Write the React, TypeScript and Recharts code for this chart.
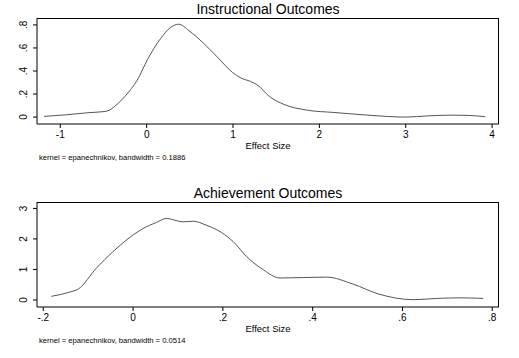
import React from 'react';
import { LineChart, Line, XAxis, YAxis } from 'recharts';

// Instructional outcomes density
const instrX = [-1.19, -0.93, -0.69, -0.46, -0.36, -0.24, -0.11, 0.01, 0.16, 0.28, 0.37, 0.49, 0.66, 0.82, 0.99, 1.09, 1.2, 1.28, 1.42, 1.59, 1.86, 2.17, 2.56, 3.0, 3.25, 3.52, 3.72, 3.92];
const instrY = [0.006, 0.02, 0.037, 0.052, 0.1, 0.19, 0.32, 0.5, 0.68, 0.78, 0.806, 0.75, 0.64, 0.52, 0.39, 0.34, 0.31, 0.28, 0.18, 0.11, 0.06, 0.04, 0.017, 0.0, 0.01, 0.017, 0.015, 0.003];
const instrXTicks = [-1, 0, 1, 2, 3, 4];
const instrYTicks = [0, 0.2, 0.4, 0.6, 0.8];

// Achievement outcomes density
const achX = [-0.182, -0.141, -0.122, -0.082, -0.045, 0.0, 0.022, 0.052, 0.074, 0.111, 0.134, 0.163, 0.197, 0.223, 0.253, 0.29, 0.327, 0.431, 0.49, 0.546, 0.624, 0.676, 0.728, 0.78];
const achY = [0.12, 0.26, 0.36, 1.04, 1.58, 2.13, 2.34, 2.54, 2.67, 2.56, 2.58, 2.45, 2.21, 1.91, 1.42, 0.99, 0.72, 0.75, 0.52, 0.2, 0.01, 0.05, 0.07, 0.05];
const achXTicks = [-0.2, 0, 0.2, 0.4, 0.6, 0.8];
const achYTicks = [0, 1, 2, 3];

const FONT = '"Liberation Sans", Arial, sans-serif';

// stata style: .2 instead of 0.2
const fmt = (v: number) => String(v).replace(/^(-?)0\./, '$1.');

const YTick = (props: any) => {
  const { x, y, payload } = props;
  const bx = x - 4;
  return (
    <text x={bx} y={y} transform={`rotate(-90, ${bx}, ${y})`} textAnchor="middle" fontSize={10} fill="#000" fontFamily={FONT}>
      {fmt(payload.value)}
    </text>
  );
};

interface PanelProps {
  xs: number[];
  ys: number[];
  xTicks: number[];
  yTicks: number[];
  xDomain: [number, number];
  yDomain: [number, number];
  title: string;
  note: string;
  height: number;
  top: number;
  plotTop: number;
}

const Panel: React.FC<PanelProps> = ({ xs, ys, xTicks, yTicks, xDomain, yDomain, title, note, height, top, plotTop }) => {
  const data = xs.map((x, i) => ({ x, y: ys[i] }));
  const plotBottom = height - 51;
  return (
    <div style={{ position: 'absolute', left: 0, top, width: 519, height }}>
      <div style={{ position: 'absolute', left: 0, width: 536, top: plotTop - 17, textAlign: 'center', fontSize: 14, fontFamily: FONT, lineHeight: '16px' }}>
        {title}
      </div>
      <LineChart width={519} height={height} data={data} margin={{ top: plotTop, right: 20, left: 0, bottom: 31 }}>
        <XAxis dataKey="x" type="number" domain={xDomain} ticks={xTicks} allowDataOverflow
          stroke="#000" tickSize={4} tickMargin={3} height={20} interval={0}
          tick={{ fontSize: 10, fill: '#000', fontFamily: FONT }} tickFormatter={fmt} />
        <YAxis type="number" domain={yDomain} ticks={yTicks} allowDataOverflow
          stroke="#000" tickSize={4} width={37} interval={0} tick={<YTick />} />
        <Line type="monotone" dataKey="y" stroke="#555" strokeWidth={1} dot={false} isAnimationActive={false} />
      </LineChart>
      {/* plot region frame */}
      <div style={{ position: 'absolute', left: 37, top: plotTop, width: 462, height: plotBottom - plotTop, borderTop: '1px solid #000', borderRight: '1px solid #000', boxSizing: 'border-box', pointerEvents: 'none' }} />
      <div style={{ position: 'absolute', left: 0, width: 536, top: plotBottom + 16, textAlign: 'center', fontSize: 9.5, fontFamily: FONT, lineHeight: '12px' }}>
        Effect Size
      </div>
      <div style={{ position: 'absolute', left: 39, top: plotBottom + 29, fontSize: 7.6, fontFamily: FONT, lineHeight: '10px', whiteSpace: 'nowrap' }}>
        {note}
      </div>
    </div>
  );
};

export default function App() {
  return (
    <div style={{ position: 'absolute', left: 0, top: 0, width: 519, height: 358, background: '#fff' }}>
      <Panel xs={instrX} ys={instrY} xTicks={instrXTicks} yTicks={instrYTicks}
        xDomain={[-1.27, 4.08]} yDomain={[-0.06, 0.86]}
        title="Instructional Outcomes" note="kernel = epanechnikov, bandwidth = 0.1886"
        height={175} top={0} plotTop={18} />
      <Panel xs={achX} ys={achY} xTicks={achXTicks} yTicks={achYTicks}
        xDomain={[-0.214, 0.815]} yDomain={[-0.23, 3.21]}
        title="Achievement Outcomes" note="kernel = epanechnikov, bandwidth = 0.0514"
        height={183} top={175} plotTop={27} />
    </div>
  );
}
